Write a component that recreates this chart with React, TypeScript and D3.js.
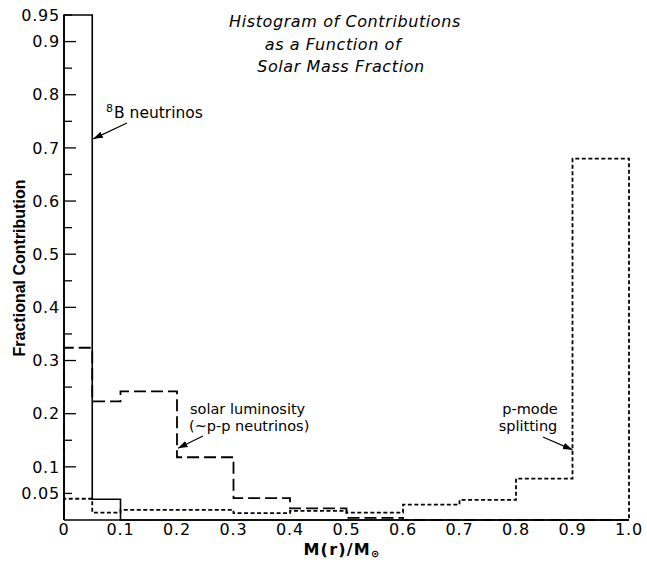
import * as d3 from "d3"

// bin edges along M(r)/M_sun
const binEdges = [0, 0.05, 0.1, 0.2, 0.3, 0.4, 0.5, 0.6, 0.7, 0.8, 0.9, 1.0]

// fractional contribution per bin
const boronNeutrinos = [0.95, 0.039, 0, 0, 0, 0, 0, 0, 0, 0, 0]
const solarLuminosity = [0.324, 0.223, 0.242, 0.118, 0.041, 0.022, 0.004, 0, 0, 0, 0]
const pModeSplitting = [0.04, 0.014, 0.019, 0.019, 0.013, 0.017, 0.014, 0.029, 0.038, 0.078, 0.68]

const yTickValues = [0.05, 0.1, 0.2, 0.3, 0.4, 0.5, 0.6, 0.7, 0.8, 0.9, 0.95]
const yMinorTicks = [0.15, 0.25, 0.35, 0.45, 0.55, 0.65, 0.75, 0.85]
const xTickValues = [0, 0.1, 0.2, 0.3, 0.4, 0.5, 0.6, 0.7, 0.8, 0.9, 1.0]
const xTickLabels = ["0", "0.1", "0.2", "0.3", "0.4", "0.5", "0.6", "0.7", "0.8", "0.9", "1.0"]

const titleLines = ["Histogram of Contributions", "as a Function of", "Solar Mass Fraction"]

const width = 647
const height = 563

const x = d3.scaleLinear().domain([0, 1]).range([64, 629])
const y = d3.scaleLinear().domain([0, 0.95]).range([520, 15])

const stepLine = d3
  .line<[number, number]>()
  .x((d) => x(d[0]))
  .y((d) => y(d[1]))
  .curve(d3.curveStepAfter)

function histPoints(values: number[]): [number, number][] {
  const pts: [number, number][] = [[0, 0]]
  values.forEach((v, i) => pts.push([binEdges[i], v]))
  pts.push([1, values[values.length - 1]])
  pts.push([1, 0])
  return pts
}

const tickFont = "DejaVu Sans, sans-serif"

export default function App() {
  const titleX = [345, 333, 341]
  const titleY = [27, 50, 72]

  // annotation arrow tips in data coordinates
  const tip8B: [number, number] = [0.05, 0.717]
  const tipSolar: [number, number] = [0.2, 0.135]
  const tipP: [number, number] = [0.9, 0.132]

  return (
    <svg
      width={width}
      height={height}
      style={{ position: "absolute", left: 0, top: 0, background: "#fff" }}
    >
      <defs>
        <marker id="arrow" viewBox="0 0 10 10" refX="10" refY="5" markerWidth="8" markerHeight="8" orient="auto">
          <path d="M0,1.5 L10,5 L0,8.5 z" fill="#000" />
        </marker>
      </defs>

      {/* title */}
      <g fontFamily={tickFont} fontStyle="italic" fontSize={16} letterSpacing={0.6} textAnchor="middle" fill="#000">
        {titleLines.map((t, i) => (
          <text key={t} x={titleX[i]} y={titleY[i]}>
            {t}
          </text>
        ))}
      </g>

      {/* axes */}
      <line x1={x(0)} x2={x(0)} y1={y(0.95)} y2={y(0)} stroke="#000" strokeWidth={1.6} />
      <line x1={x(0)} x2={x(1)} y1={y(0)} y2={y(0)} stroke="#000" strokeWidth={1.6} />

      {yTickValues.map((t) => (
        <line key={"t" + t} x1={x(0)} x2={x(0) + (t === 0.05 || t === 0.95 ? 8 : 12)} y1={y(t)} y2={y(t)} stroke="#000" strokeWidth={1.3} />
      ))}
      {yMinorTicks.map((t) => (
        <line key={"m" + t} x1={x(0)} x2={x(0) + 8} y1={y(t)} y2={y(t)} stroke="#000" strokeWidth={1.3} />
      ))}

      <g fontFamily={tickFont} fontSize={16} letterSpacing={0.8} fill="#000">
        {yTickValues.map((t) => (
          <text key={"yl" + t} x={x(0) - 4} y={y(t)} dy="0.36em" textAnchor="end">
            {String(t)}
          </text>
        ))}
        {xTickValues.map((t, i) => (
          <text key={"xl" + t} x={x(t)} y={535} textAnchor="middle">
            {xTickLabels[i]}
          </text>
        ))}
      </g>

      {/* axis labels */}
      <text
        transform={`translate(25, 268) rotate(-90)`}
        textAnchor="middle"
        fontFamily="Liberation Sans, Arial, sans-serif"
        fontWeight="bold"
        fontSize={16}
        fill="#000"
      >
        Fractional Contribution
      </text>
      <text x={342} y={555} textAnchor="middle" fontFamily={tickFont} fontWeight="bold" fontSize={16} letterSpacing={1.2} fill="#000">
        M(r)/M
        <tspan fontSize={10} dy={2}>
          ⊙
        </tspan>
      </text>

      {/* histograms */}
      <path d={stepLine(histPoints(pModeSplitting)) ?? ""} fill="none" stroke="#000" strokeWidth={1.8} strokeDasharray="4,2.5" />
      <path d={stepLine(histPoints(solarLuminosity)) ?? ""} fill="none" stroke="#000" strokeWidth={1.8} strokeDasharray="12,5" />
      <path d={stepLine(histPoints(boronNeutrinos)) ?? ""} fill="none" stroke="#000" strokeWidth={1.6} />

      {/* annotations */}
      <g fontFamily={tickFont} fontSize={14.5} fill="#000">
        <text x={106} y={118}>
          <tspan fontSize={11} dy={-6}>
            8
          </tspan>
          <tspan dy={6} dx={1} fontSize={15.5}>
            B neutrinos
          </tspan>
        </text>
        <text x={190} y={414}>solar luminosity</text>
        <text x={189} y={431}>(~p-p neutrinos)</text>
        <text x={530} y={414} textAnchor="middle">
          p-mode
        </text>
        <text x={528} y={431} textAnchor="middle">
          splitting
        </text>
      </g>

      <line x1={127} y1={123} x2={x(tip8B[0]) + 1} y2={y(tip8B[1])} stroke="#000" strokeWidth={1.2} markerEnd="url(#arrow)" />
      <line x1={203} y1={436} x2={x(tipSolar[0]) + 1} y2={y(tipSolar[1])} stroke="#000" strokeWidth={1.2} markerEnd="url(#arrow)" />
      <line x1={543} y1={437} x2={x(tipP[0])} y2={y(tipP[1])} stroke="#000" strokeWidth={1.2} markerEnd="url(#arrow)" />
    </svg>
  )
}
